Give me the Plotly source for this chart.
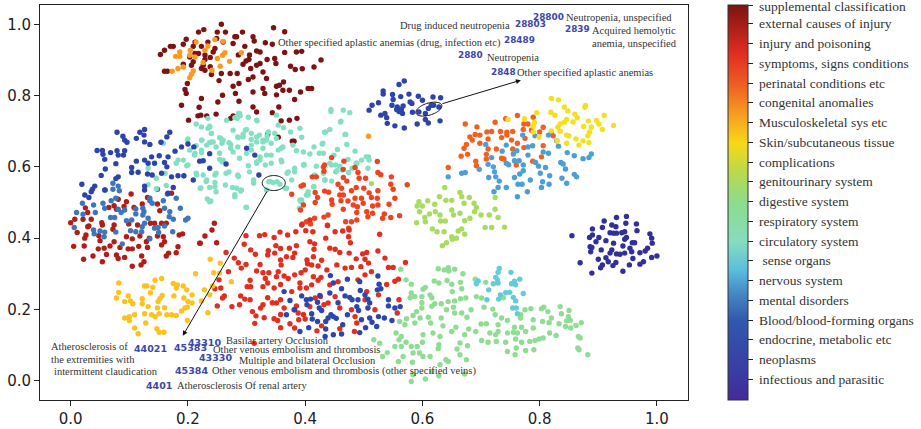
import numpy as np
import plotly.graph_objects as go

category_labels = ["infectious and parasitic", "neoplasms", "endocrine, metabolic etc", "Blood/blood-forming organs",
    "mental disorders", "nervous system", " sense organs", "circulatory system", "respiratory system", "digestive system",
    "genitourinary system", "complications", "Skin/subcutaneous tissue", "Musculoskeletal sys etc", "congenital anomalies",
    "perinatal conditions etc", "symptoms, signs conditions", "injury and poisoning", "external causes of injury",
    "supplemental classification"]

supplemental = [(.257,1.0),(.227,.985),(.218,.978),(.250,.978),(.264,.978),(.293,.978),(.346,.990),(.365,.979),(.283,.965),(.197,.958),(.192,.944),(.212,.950),(.234,.950),(.249,.960),(.260,.950),(.280,.965),(.277,.946),(.311,.965),(.313,.953),(.175,.938),(.170,.938),(.209,.938),(.223,.938),(.246,.932),(.243,.922),(.297,.938),(.332,.948),(.344,.944),(.212,.918),(.218,.918),(.203,.908),(.229,.914),(.229,.901),(.238,.907),(.286,.914),(.305,.914),(.317,.925),(.323,.922),(.335,.901),(.348,.904),(.365,.921),(.304,.901),(.299,.897),(.294,.888),(.226,.885),(.238,.881),(.209,.895),(.192,.888),(.206,.885),(.223,.876),(.229,.871),(.240,.859),(.257,.862),(.272,.862),(.284,.862),(.307,.876),(.317,.885),(.323,.890),(.350,.890),(.328,.866),(.160,.927),(.153,.915),(.385,.922),(.394,.924),(.427,.900),(.375,.882),(.415,.880),(.395,.875),(.383,.873),(.160,.868),(.165,.868),(.311,.852),(.334,.848),(.303,.845),(.253,.842),(.287,.834),(.277,.826),(.351,.826),(.363,.838),(.356,.829),(.405,.820),(.411,.820),(.195,.817),(.199,.834),(.311,.810),(.328,.820),(.281,.806),(.362,.815),(.373,.815),(.392,.810),(.351,.802),(.331,.806),(.197,.806),(.259,.801),(.223,.792),(.382,.789),(.251,.782),(.287,.784),(.189,.773),(.219,.767),(.311,.768),(.355,.768),(.317,.754),(.344,.752),(.248,.748),(.232,.743),(.217,.743),(.222,.745),(.277,.743),(.201,.731),(.273,.736),(.359,.729),(.373,.731),(.386,.736),(.378,.672),(.336,.691),(.354,.683),(.381,.672)]

external = [(0,.443),(.007,.453),(.011,.416),(.005,.377),(.022,.341),(.023,.378),(.024,.400),(.026,.409),(.021,.453),(.035,.453),(.031,.434),(.029,.432),(.025,.485),(.029,.472),(.038,.350),(.047,.370),(.050,.393),(.048,.407),(.054,.437),(.053,.443),(.054,.334),(.057,.372),(.061,.354),(.067,.378),(.074,.390),(.072,.425),(.074,.437),(.065,.486),(.074,.491),(.078,.481),(.081,.509),(.078,.353),(.081,.343),(.084,.374),(.092,.346),(.091,.489),(.095,.502),(.103,.524),(.099,.440),(.108,.486),(.114,.437),(.095,.404),(.098,.370),(.105,.370),(.105,.321),(.105,.398),(.118,.406),(.116,.377),(.121,.350),(.120,.325),(.125,.334),(.129,.390),(.131,.374),(.134,.400),(.122,.496),(.131,.514),(.148,.496),(.152,.477),(.136,.442),(.143,.442),(.148,.406),(.155,.442),(.163,.442),(.158,.404),(.160,.390),(.155,.381),(.163,.350),(.167,.358),(.180,.359),(.183,.376),(.185,.409),(.191,.412),(.172,.526),(.220,.386),(.245,.442),(.241,.423),(.229,.406),(.221,.386),(.249,.387)]

injury = [(.299,.407),(.296,.383),(.322,.407),(.331,.410),(.347,.402),(.357,.417),(.370,.409),(.384,.418),(.394,.437),(.408,.451),(.438,.436),(.401,.421),(.413,.418),(.408,.390),(.416,.384),(.435,.400),(.451,.418),(.464,.420),(.475,.423),(.474,.404),(.477,.387),(.527,.411),(.265,.360),(.279,.344),(.286,.331),(.299,.326),(.291,.316),(.269,.306),(.307,.367),(.315,.355),(.337,.365),(.336,.353),(.348,.358),(.350,.379),(.358,.371),(.368,.348),(.373,.372),(.385,.379),(.382,.358),(.379,.346),(.358,.339),(.359,.325),(.403,.339),(.404,.328),(.415,.369),(.414,.348),(.411,.325),(.428,.338),(.422,.322),(.442,.372),(.451,.369),(.459,.360),(.475,.358),(.487,.342),(.498,.356),(.505,.360),(.502,.341),(.508,.330),(.524,.364),(.536,.344),(.571,.332),(.317,.308),(.323,.326),(.328,.303),(.338,.303),(.354,.306),(.332,.287),(.336,.274),(.306,.282),(.307,.264),(.301,.264),(.328,.264),(.347,.260),(.351,.292),(.364,.294),(.371,.287),(.382,.297),(.393,.303),(.400,.311),(.414,.292),(.427,.290),(.437,.311),(.454,.325),(.468,.316),(.479,.318),(.495,.320),(.513,.306),(.542,.318),(.550,.318),(.559,.285),(.553,.279),(.539,.270),(.502,.297),(.490,.283),(.456,.278),(.442,.269),(.422,.282),(.411,.269),(.391,.274),(.391,.260),(.377,.250),(.402,.260),(.358,.270),(.246,.258),(.253,.283),(.256,.260),(.262,.238),(.259,.232),(.250,.210),(.275,.208),(.288,.213),(.290,.238),(.297,.229),(.306,.227),(.336,.233),(.344,.219),(.351,.218),(.358,.227),(.324,.204),(.328,.213),(.310,.194),(.316,.182),(.330,.177),(.314,.161),(.347,.174),(.353,.169),(.358,.186),(.358,.149),(.374,.160),(.364,.204),(.381,.199),(.385,.210),(.388,.190),(.397,.186),(.400,.173),(.389,.171),(.408,.208),(.417,.232),(.426,.236),(.432,.213),(.439,.218),(.451,.236),(.459,.204),(.479,.199),(.485,.180),(.488,.162),(.505,.250),(.525,.241),(.502,.227),(.560,.227),(.557,.190),(.519,.199),(.459,.146),(.428,.154),(.420,.140),(.382,.148),(.484,.138),(.313,.105)]

symptoms = [(.466,.616),(.523,.615),(.485,.598),(.431,.600),(.432,.588),(.465,.593),(.490,.584),(.492,.568),(.524,.584),(.529,.578),(.547,.572),(.503,.568),(.412,.572),(.419,.572),(.465,.570),(.471,.560),(.456,.551),(.462,.540),(.487,.542),(.500,.540),(.546,.551),(.574,.550),(.550,.537),(.524,.533),(.509,.527),(.393,.546),(.397,.549),(.479,.533),(.433,.532),(.440,.529),(.417,.528),(.421,.514),(.459,.521),(.465,.521),(.553,.512),(.513,.514),(.485,.512),(.496,.512),(.523,.512),(.445,.507),(.461,.505),(.473,.504),(.417,.500),(.446,.495),(.482,.493),(.499,.498),(.489,.488),(.543,.495),(.524,.493),(.515,.490),(.465,.481),(.488,.472),(.505,.474),(.515,.470),(.561,.463),(.535,.468),(.507,.460),(.532,.456),(.546,.458),(.416,.456),(.432,.459),(.439,.465),(.488,.451),(.479,.446),(.469,.446),(.402,.446),(.395,.440),(.409,.440),(.438,.435),(.474,.428),(.392,.479),(.397,.493),(.377,.523),(.433,.605),(.445,.626)]

perinatal = [(.673,.720),(.693,.712),(.724,.725),(.742,.735),(.762,.744),(.789,.739),(.773,.720),(.780,.720),(.754,.699),(.744,.697),(.733,.699),(.718,.699),(.710,.698),(.690,.691),(.698,.689),(.681,.684),(.685,.675),(.712,.678),(.735,.682),(.744,.689),(.752,.675),(.772,.705),(.786,.703),(.806,.711),(.800,.698),(.820,.698),(.823,.687),(.675,.663),(.671,.652),(.677,.635),(.666,.630),(.698,.666),(.712,.650),(.726,.650),(.709,.635),(.709,.622),(.691,.616),(.692,.603),(.644,.598),(.735,.624),(.739,.622),(.754,.650),(.762,.666),(.773,.654),(.788,.616),(.803,.628),(.806,.659),(.760,.605),(.775,.680)]

congenital = [(.179,.910),(.186,.922),(.186,.910),(.173,.868),(.183,.876),(.192,.880),(.203,.850),(.206,.860),(.209,.869),(.204,.927),(.214,.950),(.234,.939),(.229,.927),(.203,.913),(.226,.893),(.241,.871),(.255,.882),(.250,.904),(.259,.913),(.263,.920),(.271,.896),(.291,.920),(.212,.908),(.246,.957),(.260,.952),(.508,.686)]

musculoskeletal = [(.082,.274),(.082,.248),(.078,.232),(.098,.238),(.092,.222),(.102,.224),(.106,.216),(.126,.266),(.130,.266),(.144,.282),(.155,.287),(.175,.273),(.182,.269),(.192,.266),(.198,.255),(.180,.260),(.140,.262),(.136,.247),(.156,.239),(.152,.230),(.122,.230),(.122,.216),(.149,.222),(.176,.238),(.193,.232),(.207,.241),(.200,.222),(.207,.218),(.132,.208),(.148,.204),(.160,.205),(.195,.204),(.189,.196),(.126,.188),(.138,.185),(.144,.180),(.151,.188),(.164,.185),(.172,.185),(.180,.183),(.199,.206),(.199,.169),(.092,.176),(.100,.180),(.100,.169),(.109,.185),(.128,.162),(.109,.148),(.115,.132),(.147,.146),(.151,.136),(.159,.136),(.213,.300),(.238,.341),(.255,.330),(.244,.303),(.254,.302),(.274,.278),(.228,.255),(.242,.266),(.237,.241),(.223,.224),(.234,.191)]

skin = [(.820,.792),(.832,.788),(.842,.768),(.848,.757),(.878,.772),(.877,.767),(.819,.753),(.826,.745),(.860,.748),(.864,.738),(.857,.726),(.846,.733),(.835,.720),(.842,.725),(.883,.729),(.897,.730),(.910,.744),(.901,.720),(.926,.716),(.907,.705),(.875,.713),(.888,.711),(.831,.711),(.885,.697),(.882,.687),(.835,.700),(.846,.689),(.850,.687),(.862,.678),(.874,.673),(.884,.668),(.867,.661),(.846,.666),(.830,.673),(.795,.752),(.774,.735),(.791,.725),(.789,.714),(.799,.683),(.789,.698),(.746,.733),(.820,.701)]

genitourinary = [(.638,.542),(.664,.528),(.629,.516),(.724,.514),(.594,.502),(.609,.505),(.621,.495),(.640,.506),(.650,.506),(.667,.516),(.680,.514),(.688,.498),(.671,.498),(.692,.486),(.724,.481),(.591,.490),(.600,.490),(.595,.474),(.590,.443),(.605,.446),(.612,.468),(.622,.474),(.630,.465),(.631,.448),(.639,.448),(.650,.479),(.664,.470),(.689,.474),(.700,.465),(.714,.465),(.729,.458),(.707,.430),(.718,.430),(.740,.431),(.672,.449),(.681,.456),(.617,.426),(.625,.418),(.637,.418),(.661,.420),(.667,.426),(.672,.411),(.650,.404),(.658,.400),(.651,.397),(.641,.387),(.634,.379),(.604,.458),(.653,.465),(.513,.553)]

respiratory = [(.627,.314),(.637,.311),(.644,.317),(.645,.308),(.655,.313),(.669,.300),(.563,.313),(.572,.283),(.581,.271),(.620,.280),(.628,.274),(.642,.281),(.650,.271),(.665,.276),(.667,.258),(.651,.250),(.601,.257),(.605,.262),(.581,.246),(.579,.233),(.587,.236),(.599,.236),(.613,.241),(.616,.233),(.644,.222),(.655,.224),(.665,.230),(.674,.232),(.692,.236),(.701,.232),(.738,.233),(.599,.219),(.621,.216),(.632,.216),(.641,.199),(.653,.206),(.683,.199),(.690,.285),(.708,.276),(.705,.206),(.720,.201),(.616,.209),(.599,.204),(.590,.194),(.610,.178),(.596,.176),(.584,.183),(.573,.174),(.561,.166),(.632,.176),(.655,.190),(.667,.190),(.676,.178),(.724,.185),(.735,.176),(.745,.169),(.775,.199),(.785,.202),(.768,.185),(.767,.176),(.803,.202),(.807,.206),(.814,.194),(.835,.208),(.850,.197),(.837,.188),(.849,.180),(.820,.176),(.789,.171),(.805,.166),(.816,.163),(.833,.160),(.846,.168),(.852,.169),(.871,.163),(.862,.155),(.853,.148),(.844,.152),(.817,.134),(.828,.127),(.866,.124),(.869,.120),(.806,.120),(.799,.117),(.792,.113),(.783,.110),(.769,.108),(.776,.138),(.789,.148),(.769,.150),(.757,.150),(.762,.134),(.755,.136),(.745,.134),(.759,.117),(.742,.108),(.726,.110),(.712,.108),(.701,.113),(.691,.138),(.729,.138),(.725,.129),(.715,.134),(.709,.160),(.700,.159),(.729,.157),(.865,.092),(.867,.087),(.882,.073),(.790,.087),(.776,.085),(.760,.092),(.745,.082),(.758,.073),(.679,.145),(.657,.150),(.672,.129),(.650,.138),(.630,.124),(.618,.134),(.614,.162),(.601,.129),(.635,.154),(.587,.162),(.570,.157),(.555,.134),(.564,.124),(.560,.115),(.572,.108),(.564,.096),(.581,.096),(.591,.096),(.600,.108),(.628,.101),(.627,.090),(.664,.106),(.677,.098),(.659,.089),(.664,.073),(.553,.096),(.540,.079),(.532,.068),(.517,.115),(.527,.105),(.567,.068),(.584,.078),(.595,.078),(.601,.068),(.613,.068),(.559,.054),(.583,.052),(.630,.045),(.640,.059),(.644,.054),(.675,.059),(.581,-.002),(.584,.017),(.605,.005),(.628,.014),(.672,.019),(.616,.026)]

circulatory = [(.286,.750),(.444,.761),(.444,.755),(.465,.759),(.476,.752),(.289,.743),(.280,.738),(.266,.731),(.303,.739),(.317,.731),(.234,.736),(.214,.720),(.223,.712),(.234,.708),(.237,.714),(.351,.745),(.354,.717),(.363,.710),(.442,.705),(.461,.728),(.433,.697),(.468,.691),(.277,.703),(.300,.705),(.240,.694),(.294,.684),(.254,.682),(.223,.675),(.199,.675),(.240,.670),(.273,.663),(.285,.684),(.308,.694),(.322,.689),(.337,.698),(.351,.680),(.375,.698),(.391,.708),(.394,.683),(.379,.661),(.362,.656),(.342,.666),(.328,.670),(.317,.670),(.308,.661),(.285,.656),(.273,.652),(.232,.661),(.214,.659),(.211,.633),(.192,.619),(.180,.610),(.198,.603),(.214,.582),(.260,.619),(.288,.624),(.323,.619),(.303,.603),(.334,.633),(.359,.619),(.342,.610),(.397,.642),(.408,.636),(.415,.656),(.430,.666),(.431,.638),(.442,.610),(.463,.591),(.480,.596),(.487,.610),(.496,.619),(.508,.628),(.382,.596),(.397,.605),(.371,.586),(.305,.586),(.285,.577),(.265,.582),(.248,.582),(.231,.559),(.246,.544),(.222,.541),(.226,.577),(.283,.540),(.291,.535),(.280,.516),(.237,.502),(.338,.558),(.345,.556),(.352,.558),(.357,.551),(.368,.540),(.415,.544),(.402,.521),(.431,.582),(.394,.507),(.299,.487),(.390,.484),(.158,.666),(.161,.582),(.146,.568),(.132,.550),(.163,.548),(.146,.539),(.132,.596),(.183,.619),(.260,.675),(.300,.638),(.317,.610),(.334,.675),(.429,.664),(.471,.663),(.485,.644),(.455,.649),(.449,.633),(.398,.607),(.419,.602),(.445,.605),(.473,.621),(.488,.610),(.504,.628),(.509,.619),(.507,.596),(.459,.602),(.452,.586),(.474,.584),(.433,.563),(.445,.560),(.414,.544),(.405,.521),(.393,.502),
    (.288,.750),(.284,.736),(.237,.712),(.240,.694),(.200,.678),(.224,.675),(.237,.668),(.243,.670),(.256,.680),(.258,.666),(.270,.668),(.286,.682),(.294,.691),(.308,.677),(.317,.684),(.328,.675),(.335,.686),(.348,.694),(.298,.703),(.318,.729),(.435,.698),(.460,.726),(.469,.691),(.424,.638),(.385,.645),(.359,.652),(.328,.652),(.308,.647),(.277,.642),(.254,.638),(.248,.656),(.223,.647),(.223,.640),(.203,.647),(.212,.638),(.200,.605),(.193,.574),(.215,.577),(.246,.577),(.254,.621),(.258,.614),(.323,.628),(.317,.614),(.342,.633),(.354,.647),(.332,.605),(.360,.614),(.270,.586),(.286,.573),(.340,.559),(.377,.563),(.398,.605),(.416,.577),(.434,.563),(.452,.605),(.454,.589),(.369,.582),(.382,.586),(.232,.563),(.246,.556),(.264,.549),(.221,.540),(.237,.542),(.248,.530),(.276,.542),(.280,.522),(.290,.532),(.233,.510),(.239,.504),(.312,.563),(.312,.554),(.300,.486),(.334,.535),(.366,.540),(.405,.530),(.391,.507)]

sense = [(.731,.315),(.729,.304),(.751,.304),(.725,.290),(.728,.283),(.729,.274),(.721,.272),(.766,.285),(.757,.279),(.752,.272),(.759,.269),(.695,.280),(.692,.272),(.713,.255),(.742,.247),(.749,.248),(.733,.241),(.772,.245),(.730,.229),(.710,.227),(.755,.234),(.759,.224),(.754,.204),(.760,.204),(.762,.188)]

nervous = [(.815,.689),(.829,.673),(.832,.658),(.708,.663),(.718,.626),(.712,.607),(.721,.600),(.736,.644),(.743,.661),(.755,.636),(.761,.645),(.771,.689),(.792,.687),(.788,.659),(.780,.656),(.780,.633),(.806,.642),(.815,.638),(.847,.640),(.859,.631),(.888,.636),(.884,.626),(.874,.623),(.836,.612),(.840,.608),(.844,.594),(.859,.579),(.863,.572),(.838,.568),(.846,.554),(.817,.575),(.810,.598),(.801,.582),(.816,.551),(.805,.558),(.803,.542),(.784,.563),(.779,.530),(.762,.516),(.770,.551),(.763,.551),(.757,.570),(.723,.586),(.725,.572),(.713,.570),(.697,.593),(.667,.582),(.673,.584),(.644,.572),(.731,.560),(.729,.542),(.743,.542),(.722,.530),(.743,.610),(.747,.606),(.757,.617),(.765,.617),(.772,.605),(.772,.589),(.766,.580),(.793,.612),(.798,.602)]

mental = [(.010,.472),(.020,.498),(.006,.430),(.021,.467),(.039,.493),(.042,.472),(.039,.423),(.040,.412),(.050,.420),(.058,.417),(.057,.404),(.059,.535),(.055,.498),(.058,.484),(.069,.505),(.072,.554),(.072,.537),(.081,.546),(.083,.533),(.068,.458),(.075,.458),(.077,.512),(.077,.417),(.086,.472),(.081,.481),(.092,.479),(.095,.449),(.104,.451),(.088,.384),(.102,.421),(.111,.468),(.111,.482),(.123,.484),(.125,.474),(.123,.465),(.132,.456),(.126,.442),(.122,.432),(.121,.418),(.111,.418),(.135,.512),(.135,.505),(.139,.498),(.148,.537),(.158,.505),(.160,.484),(.169,.474),(.168,.460),(.175,.453),(.160,.434),(.149,.430),(.143,.428),(.150,.416),(.135,.398),(.174,.418),(.180,.512),(.165,.524),(.187,.484),(.200,.456),(.196,.451)]

blood = [(.443,.295),(.472,.285),(.493,.278),(.524,.294),(.526,.271),(.529,.258),(.523,.255),(.448,.274),(.462,.258),(.364,.250),(.394,.238),(.374,.225),(.425,.239),(.442,.246),(.494,.253),(.502,.241),(.476,.234),(.468,.238),(.480,.227),(.490,.227),(.507,.229),(.510,.218),(.542,.227),(.542,.210),(.553,.204),(.562,.208),(.402,.227),(.409,.229),(.421,.220),(.403,.213),(.456,.219),(.488,.208),(.507,.204),(.491,.197),(.382,.199),(.368,.185),(.424,.204),(.428,.197),(.411,.188),(.444,.185),(.439,.176),(.448,.180),(.412,.173),(.421,.166),(.435,.166),(.453,.175),(.472,.185),(.496,.171),(.510,.176),(.514,.164),(.525,.180),(.535,.176),(.548,.169),(.464,.157),(.406,.149),(.435,.145),(.391,.138),(.448,.129),(.434,.124),(.462,.131),(.493,.135),(.503,.149),(.522,.152)]

endocrine = [(.079,.697),(.126,.705),(.118,.697),(.125,.689),(.112,.680),(.089,.686),(.092,.675),(.096,.669),(.126,.670),(.135,.663),(.154,.669),(.169,.697),(.164,.684),(.045,.646),(.054,.646),(.055,.635),(.068,.640),(.079,.645),(.081,.633),(.092,.645),(.090,.633),(.058,.621),(.077,.609),(.059,.594),(.052,.576),(.019,.551),(.041,.546),(.037,.537),(.024,.521),(.031,.514),(.112,.616),(.104,.598),(.104,.584),(.115,.585),(.126,.619),(.138,.628),(.151,.631),(.166,.628),(.132,.610),(.143,.610),(.160,.612),(.164,.600),(.131,.580),(.139,.577),(.155,.582),(.172,.572),(.183,.575),(.193,.575),(.175,.542),(.178,.644),(.189,.656),(.200,.664),(.210,.656),(.226,.617),(.220,.616),(.237,.637),(.237,.596),(.209,.563),(.265,.608),(.300,.652),(.314,.633),(.321,.577),(.081,.572),(.077,.567),(.126,.546),(.126,.535),(.058,.535),(.166,.526),(.035,.530),
    (.569,.841),(.560,.831),(.533,.813),(.533,.804),(.549,.803),(.577,.804),(.593,.798),(.563,.797),(.550,.789),(.600,.787),(.618,.796),(.631,.794),(.525,.780),(.514,.773),(.509,.759),(.579,.782),(.582,.778),(.548,.773),(.557,.768),(.567,.771),(.556,.761),(.564,.761),(.560,.755),(.566,.750),(.583,.753),(.536,.750),(.529,.745),(.539,.738),(.540,.722),(.553,.715),(.569,.709),(.591,.720),(.610,.723),(.605,.733),(.630,.729),(.594,.754),(.605,.750),(.610,.764),(.615,.773),(.619,.773),(.628,.768)]

infectious = [(.931,.458),(.948,.461),(.910,.448),(.947,.442),(.965,.440),(.923,.437),(.930,.432),(.890,.426),(.907,.430),(.966,.421),(.855,.407),(.885,.402),(.890,.409),(.901,.402),(.896,.390),(.913,.393),(.920,.415),(.926,.414),(.931,.414),(.940,.415),(.945,.418),(.926,.386),(.945,.397),(.948,.402),(.988,.412),(.991,.400),(.992,.386),(.958,.387),(.962,.387),(.942,.378),(.886,.376),(.889,.374),(.887,.362),(.905,.367),(.923,.367),(.920,.358),(.931,.356),(.937,.355),(.945,.358),(.954,.372),(.957,.362),(.971,.359),(.980,.364),(.984,.372),(.991,.346),(1.0,.350),(.900,.341),(.913,.345),(.917,.334),(.907,.325),(.904,.317),(.930,.332),(.925,.323),(.959,.343),(.953,.325),(.971,.327),(.977,.334),(.869,.331),(.889,.302),(.942,.307)]

# code label, left pixel, centre pixel
code_labels = [("28800",532,17),("28803",514,24),("2839",564,29),("28489",503,40),("2880",457,55),("2848",490,72),
    ("44021",133,349),("45383",173,348),("43310",187,343),("43330",198,358),("45384",174,371),("4401",145,386)]
note_labels = [("Drug induced neutropenia",399,25),("Neutropenia, unspecified",565,17),("Acquired hemolytic",591,30),
    ("anemia, unspecified",591,43),("Other specified aplastic anemias (drug, infection etc)",277,43),("Neutropenia",486,57),
    ("Other specified aplastic anemias",516,72),("Atherosclerosis of",50,347),("the extremities with",50,360),
    ("intermittent claudication",53,372),("Basilar artery Occlusion",225,341),("Other venous embolism and thrombosis",212,350),
    ("Multiple and bilateral Occlusion",238,361),("Other venous embolism and thrombosis (other specified veins)",211,371),
    ("Atherosclerosis Of renal artery",176,386)]

X0, XU, Y0, YU = 71.0, 586.0, 381.0, 357.0
dx = lambda p: (p - X0) / XU
dy = lambda p: (Y0 - p) / YU

series = [(supplemental, "#7d1212"), (external, "#b01e16"), (mental, "#3f76bb"), (perinatal, "#f2601e"),
    (nervous, "#4c9fd6"), (skin, "#f4e01d"), (circulatory, "#83e0c0"), (symptoms, "#ec4420"), (injury, "#e02f20"),
    (congenital, "#fb9a1c"), (musculoskeletal, "#fdc21f"), (respiratory, "#8fdd92"), (sense, "#62cbdc"),
    (genitourinary, "#a6dd5e"), (blood, "#2c46ab"), (endocrine, "#2c44aa"), (infectious, "#303099")]

fig = go.Figure()
for pts, color in series:
    fig.add_trace(go.Scatter(x=[p[0] for p in pts], y=[p[1] for p in pts], mode="markers", showlegend=False,
        marker=dict(size=5.4, color=color, line=dict(width=0)), hoverinfo="skip"))

scale = [[0, "#452a98"], [.07, "#3a3ca4"], [.2, "#3058ad"], [.27, "#4588c4"], [.33, "#5abfdc"], [.4, "#86dcc0"],
    [.5, "#8cdc8c"], [.58, "#bcd94a"], [.65, "#f7d916"], [.72, "#f6a020"], [.8, "#ee5d22"], [.88, "#e02c20"], [1, "#7b1410"]]
fig.add_trace(go.Scatter(x=[None], y=[None], mode="markers", showlegend=False, hoverinfo="skip",
    marker=dict(color=[0], cmin=0, cmax=20, colorscale=scale, showscale=True, colorbar=dict(
        x=1.0615, xanchor="left", xpad=0, y=1, yanchor="top", ypad=0, lenmode="fraction", len=1.0, thickness=20,
        thicknessmode="pixels", outlinecolor="#333", outlinewidth=1, ticks="outside", ticklen=5, tickcolor="#222",
        ticklabeloverflow="allow", tickvals=[v + .05 for v in range(1, 20)] + [19.95],
        ticktext=["\u00a0" + c for c in category_labels],
        tickfont=dict(family="Liberation Serif", size=13.5, color="#333")))))

annots = []
for t, px, py in code_labels:
    annots.append(dict(x=dx(px), y=dy(py), text=t, showarrow=False, xanchor="left", yanchor="middle", xshift=-1,
        font=dict(family="DejaVu Sans", size=8.9 if py < 100 else 9.5, color="#3d48a8", weight="bold")))
for t, px, py in note_labels:
    annots.append(dict(x=dx(px), y=dy(py), text=t, showarrow=False, xanchor="left", yanchor="middle", xshift=-1,
        font=dict(family="Liberation Serif", size=10.5, color="#333")))
for (x1, y1), (x0, y0) in [((183, 336), (268, 190)), ((521, 80), (441, 104))]:
    annots.append(dict(x=dx(x1), y=dy(y1), ax=dx(x0), ay=dy(y0), xref="x", yref="y", axref="x", ayref="y", text="",
        showarrow=True, arrowhead=2, arrowsize=1, arrowwidth=1, arrowcolor="#111"))

shapes = []
for cx, cy, rx, ry, rot in [(274, 183, 11.5, 7.5, 0), (429, 109, 13.5, 6, -0.3)]:
    t = np.linspace(0, 2 * np.pi, 60)
    ex = cx + rx * np.cos(t) * np.cos(rot) - ry * np.sin(t) * np.sin(rot)
    ey = cy + rx * np.cos(t) * np.sin(rot) + ry * np.sin(t) * np.cos(rot)
    path = "M " + " L ".join(f"{dx(a):.4f},{dy(b):.4f}" for a, b in zip(ex, ey)) + " Z"
    shapes.append(dict(type="path", path=path, xref="x", yref="y", line=dict(color="#111", width=1)))

axis = dict(showgrid=False, zeroline=False, ticks="outside", ticklen=5, tickwidth=1, tickcolor="#222", showline=True,
    linecolor="#222", linewidth=1, mirror=True, tickvals=[0, .2, .4, .6, .8, 1.0], ticktext=["0.0", "0.2", "0.4", "0.6", "0.8", "1.0"],
    tickfont=dict(family="DejaVu Sans", size=15, color="#222"))
fig.update_layout(width=921, height=429, margin=dict(l=40, r=233, t=5, b=29, autoexpand=False), paper_bgcolor="white", plot_bgcolor="white",
    xaxis=dict(axis, range=[-.0524, 1.053]), yaxis=dict(axis, range=[-.054, 1.054]), annotations=annots, shapes=shapes)
fig.write_html("out.html", config=dict(displayModeBar=False), post_script="document.body.style.margin='0';")
